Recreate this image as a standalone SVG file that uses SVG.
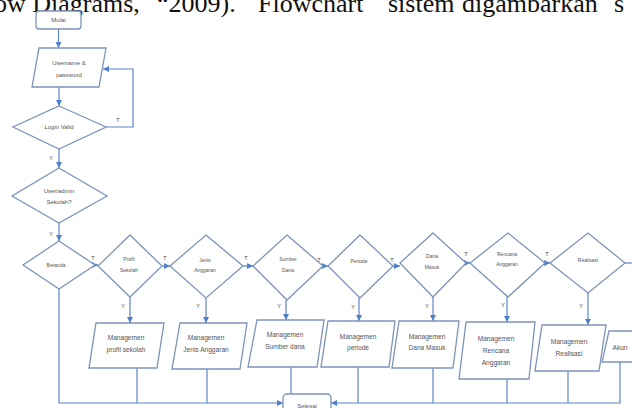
<svg xmlns="http://www.w3.org/2000/svg" width="632" height="408" viewBox="0 0 632 408">
<defs>
<style>
.shape{fill:#fff;stroke:#7d93ba;stroke-width:1.3}
.conn{fill:none;stroke:#5a85c6;stroke-width:1.2}
.arr{marker-end:url(#ah)}
.t{font-family:"Liberation Sans",Arial,sans-serif;fill:#555;text-anchor:middle}
.s5{font-size:5px}
.s6{font-size:6px}
.s7{font-size:6.6px}
.lab{font-family:"Liberation Sans",Arial,sans-serif;font-size:5.5px;fill:#444;text-anchor:middle}
.top{font-family:"Liberation Serif","Times New Roman",serif;font-size:26px;fill:#111}
</style>
<marker id="ah" markerUnits="userSpaceOnUse" markerWidth="7" markerHeight="7" refX="6" refY="3.5" orient="auto">
<path d="M0,0.5 L6,3.5 L0,6.5 z" fill="#4f81c7"/>
</marker>
</defs>
<rect width="632" height="408" fill="#fff"/>
<text class="top" y="12"><tspan x="-6">ow Diagrams,</tspan><tspan x="157">“2009).</tspan><tspan x="258">Flowchart</tspan><tspan x="388">sistem</tspan><tspan x="462">digambarkan</tspan><tspan x="614">s</tspan></text>

<g id="connectors">
<path class="conn arr" d="M58.5,29 V48"/>
<path class="conn arr" d="M59,87 V106"/>
<path class="conn arr" d="M106,127 H133 V69 H103"/>
<path class="conn arr" d="M59,149 V168"/>
<path class="conn arr" d="M59,223 V241"/>
<path class="conn arr" d="M95,265 H98"/>
<path class="conn arr" d="M162,266 H170"/>
<path class="conn arr" d="M243,266 H253"/>
<path class="conn arr" d="M323,266 H328"/>
<path class="conn arr" d="M393,266 H400"/>
<path class="conn arr" d="M466,263 H470"/>
<path class="conn arr" d="M545,263 H550"/>
<path class="conn" d="M625,263 H634"/>
<path class="conn arr" d="M130,297 V323"/>
<path class="conn arr" d="M206,298 V323"/>
<path class="conn arr" d="M286,300 V320"/>
<path class="conn arr" d="M359,298 V321"/>
<path class="conn arr" d="M433,297 V321"/>
<path class="conn arr" d="M507,297 V322"/>
<path class="conn arr" d="M588,293 V325"/>
<path class="conn arr" d="M59,289 V403 H283"/>
<path class="conn" d="M137,368 V403"/>
<path class="conn" d="M207,369 V403"/>
<path class="conn" d="M291,367 V394"/>
<path class="conn arr" d="M620,362 V403 H331"/>
<path class="conn" d="M358,367 V403"/>
<path class="conn" d="M433,368 V403"/>
<path class="conn" d="M507,379 V403"/>
<path class="conn" d="M568,371 V403"/>
<text class="lab" x="118" y="122">T</text>
<text class="lab" x="51" y="160">Y</text>
<text class="lab" x="51" y="236">Y</text>
<text class="lab" x="93" y="260">T</text>
<text class="lab" x="165" y="260">T</text>
<text class="lab" x="246" y="260">T</text>
<text class="lab" x="319" y="262">T</text>
<text class="lab" x="392" y="262">T</text>
<text class="lab" x="466" y="256">T</text>
<text class="lab" x="547" y="256">T</text>
<text class="lab" x="123" y="308">Y</text>
<text class="lab" x="198" y="308">Y</text>
<text class="lab" x="279" y="308">Y</text>
<text class="lab" x="353" y="309">Y</text>
<text class="lab" x="427" y="308">Y</text>
<text class="lab" x="503" y="307">Y</text>
<text class="lab" x="581" y="308">Y</text>
</g>

<g id="mulai"><rect class="shape" x="36" y="11" width="45" height="18" rx="3"/><text class="t s6" x="58.5" y="22">Mulai</text></g>
<g id="username"><polygon class="shape" points="39,48 106,48 99,87 32,87"/><text class="t s6" x="69" y="65">Username &amp;</text><text class="t s6" x="69" y="77">password</text></g>
<g id="login"><polygon class="shape" points="59,106 106,127 59,149 13,127"/><text class="t s6" x="59" y="129">Login Valid</text></g>
<g id="usertype"><polygon class="shape" points="59,168 107,196 59,223 12,196"/><text class="t s6" x="59" y="193">User/admin</text><text class="t s6" x="59" y="204">Sekolah?</text></g>
<g id="beranda"><polygon class="shape" points="59,241 95,265 59,289 23,265"/><text class="t s5" x="56" y="267">Beranda</text></g>
<g id="profil"><polygon class="shape" points="130,235 162,266 130,297 98,266"/><text class="t s5" x="129" y="261">Profil</text><text class="t s5" x="129" y="272">Sekolah</text></g>
<g id="jenis"><polygon class="shape" points="206,235 243,266 206,298 170,266"/><text class="t s5" x="205" y="262">Jenis</text><text class="t s5" x="205" y="272">Anggaran</text></g>
<g id="sumber"><polygon class="shape" points="287,235 323,266 287,300 253,266"/><text class="t s5" x="288" y="261">Sumber</text><text class="t s5" x="288" y="272">Dana</text></g>
<g id="periode"><polygon class="shape" points="360,235 393,266 360,298 328,266"/><text class="t s5" x="359" y="263">Periode</text></g>
<g id="danamasuk"><polygon class="shape" points="433,233 466,263 433,297 400,263"/><text class="t s5" x="432" y="258">Dana</text><text class="t s5" x="432" y="269">Masuk</text></g>
<g id="rencana"><polygon class="shape" points="508,233 545,263 508,297 470,263"/><text class="t s5" x="507" y="256">Rencana</text><text class="t s5" x="507" y="266">Anggaran</text></g>
<g id="realisasi"><polygon class="shape" points="588,233 625,263 588,293 550,263"/><text class="t s5" x="588" y="262">Realisasi</text></g>

<g id="m-profil"><polygon class="shape" points="96,323 164,323 157,368 89,368"/><text class="t s7" x="126" y="340">Managemen</text><text class="t s7" x="126" y="352">profil sekolah</text></g>
<g id="m-jenis"><polygon class="shape" points="180,323 247,323 240,369 172,369"/><text class="t s7" x="206" y="340">Managemen</text><text class="t s7" x="206" y="352">Jenis Anggaran</text></g>
<g id="m-sumber"><polygon class="shape" points="257,320 324,320 317,367 248,367"/><text class="t s7" x="285" y="337">Managemen</text><text class="t s7" x="285" y="349">Sumber dana</text></g>
<g id="m-periode"><polygon class="shape" points="328,321 395,321 389,367 321,367"/><text class="t s7" x="358" y="339">Managemen</text><text class="t s7" x="358" y="350">periode</text></g>
<g id="m-danamasuk"><polygon class="shape" points="399,321 459,321 453,368 392,368"/><text class="t s7" x="427" y="339">Managemen</text><text class="t s7" x="427" y="350">Dana Masuk</text></g>
<g id="m-rencana"><polygon class="shape" points="466,322 535,322 529,379 459,379"/><text class="t s7" x="496" y="341">Managemen</text><text class="t s7" x="496" y="353">Rencana</text><text class="t s7" x="496" y="365">Anggaran</text></g>
<g id="m-realisasi"><polygon class="shape" points="542,325 606,325 599,371 535,371"/><text class="t s7" x="569" y="344">Managemen</text><text class="t s7" x="569" y="356">Realisasi</text></g>
<g id="akun"><polygon class="shape" points="609,331 645,331 638,362 602,362"/><text class="t s7" x="620" y="350">Akun</text></g>
<g id="selesai"><rect class="shape" x="283" y="394" width="48" height="24" rx="4"/><text class="t s6" x="307" y="408">Selesai</text></g>
</svg>
